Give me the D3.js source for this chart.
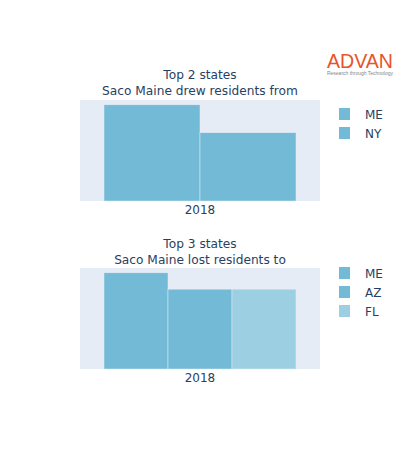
<!DOCTYPE html>
<html>
<head>
<meta charset="utf-8">
<script src="https://cdn.jsdelivr.net/npm/d3@7"></script>
<style>
  body { margin: 0; background: #fff; }
  svg text { font-family: "DejaVu Sans", Verdana, sans-serif; fill: #2a3f5f; }
</style>
</head>
<body>
<svg id="chart" width="400" height="450"></svg>
<script>
// values (relative bar heights, no y axis shown)
const years = ['2018'];
const fromStates = ['ME', 'NY'];
const fromValues = [100, 71];
const toStates = ['ME', 'AZ', 'FL'];
const toValues = [100, 83, 83];
const fromColors = ['#72bad5', '#72bad5'];
const toColors = ['#72bad5', '#72bad5', '#9ccfe2'];

const svg = d3.select('#chart');

function drawPanel(cfg) {
    const { top, bottom, titleLines, titleY, states, values, colors, legendY } = cfg;
    const left = 80, right = 320;

    const g = svg.append('g');

    g.append('rect')
        .attr('x', left).attr('y', top)
        .attr('width', right - left).attr('height', bottom - top)
        .attr('fill', '#e5ecf6');

    const x = d3.scaleBand()
        .domain(years)
        .range([left, right])
        .paddingInner(0.2)
        .paddingOuter(0.1);

    const xInner = d3.scaleBand()
        .domain(states.map((s, i) => i))
        .range([0, x.bandwidth()]);

    const y = d3.scaleLinear()
        .domain([0, d3.max(values) * 1.05])
        .range([bottom, top]);

    g.selectAll('rect.bar')
        .data(values)
        .enter()
        .append('rect')
        .attr('class', 'bar')
        .attr('x', (d, i) => x(years[0]) + xInner(i))
        .attr('width', xInner.bandwidth())
        .attr('y', d => y(d))
        .attr('height', d => y(0) - y(d))
        .attr('fill', (d, i) => colors[i])
        .attr('stroke', '#e5ecf6')
        .attr('stroke-width', 0.5);

    // x axis label only
    g.append('text')
        .attr('x', x(years[0]) + x.bandwidth() / 2)
        .attr('y', bottom + 13)
        .attr('text-anchor', 'middle')
        .attr('font-size', 12)
        .text(years[0]);

    // title
    titleLines.forEach((t, i) => {
        g.append('text')
            .attr('x', (left + right) / 2)
            .attr('y', titleY + i * 16)
            .attr('text-anchor', 'middle')
            .attr('font-size', 12.2)
            .text(t);
    });

    // legend
    const lg = g.append('g').attr('transform', `translate(339,${legendY})`);
    states.forEach((s, i) => {
        lg.append('rect')
            .attr('x', 0).attr('y', i * 19)
            .attr('width', 11).attr('height', 12)
            .attr('fill', colors[i]);
        lg.append('text')
            .attr('x', 26).attr('y', i * 19 + 10.5)
            .attr('font-size', 12)
            .text(s);
    });
}

drawPanel({
    top: 100, bottom: 201,
    titleLines: ['Top 2 states', 'Saco Maine drew residents from'],
    titleY: 79,
    states: fromStates, values: fromValues, colors: fromColors,
    legendY: 108
});

drawPanel({
    top: 268, bottom: 369,
    titleLines: ['Top 3 states', 'Saco Maine lost residents to'],
    titleY: 248,
    states: toStates, values: toValues, colors: toColors,
    legendY: 267
});

// logo
svg.append('text')
    .attr('x', 327).attr('y', 68)
    .attr('font-size', 21)
    .attr('textLength', 66)
    .attr('lengthAdjust', 'spacingAndGlyphs')
    .style('font-family', '"Liberation Sans", Arial, sans-serif')
    .style('fill', '#e8542a')
    .text('ADVAN');
svg.append('text')
    .attr('x', 327).attr('y', 75)
    .attr('font-size', 4.6)
    .attr('textLength', 66)
    .attr('lengthAdjust', 'spacingAndGlyphs')
    .style('font-family', '"Liberation Sans", Arial, sans-serif')
    .style('fill', '#888')
    .text('Research through Technology');
</script>
</body>
</html>
